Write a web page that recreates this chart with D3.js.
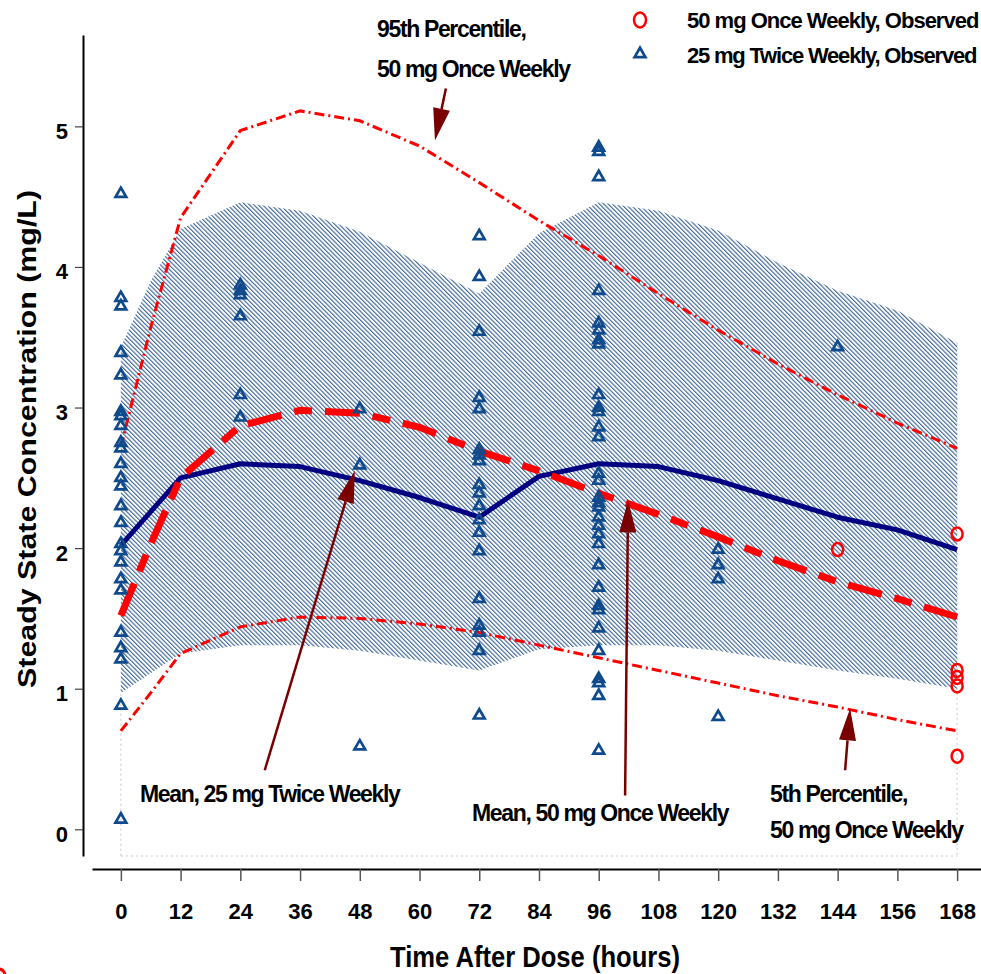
<!DOCTYPE html>
<html>
<head>
<meta charset="utf-8">
<script src="https://cdn.jsdelivr.net/npm/d3@7"></script>
<style>
  body { margin: 0; background: #fff; }
  svg text { font-family: "Liberation Sans", Arial, sans-serif; font-weight: bold; }
</style>
</head>
<body>
<div id="chart"></div>
<script>
// simulated profiles, hours after dose
var hours = [0, 6, 12, 24, 36, 48, 60, 72, 84, 96, 108, 120, 132, 144, 156, 168];
var mean25 = [2.02, 2.26, 2.50, 2.60, 2.58, 2.48, 2.36, 2.22, 2.51, 2.60, 2.58, 2.48, 2.35, 2.22, 2.13, 1.99];
var mean50 = [1.52, 2.03, 2.50, 2.87, 2.98, 2.96, 2.86, 2.69, 2.55, 2.39, 2.24, 2.08, 1.91, 1.76, 1.64, 1.51];
var p95_50 = [2.72, 3.57, 4.35, 4.97, 5.11, 5.04, 4.86, 4.60, 4.33, 4.08, 3.81, 3.55, 3.31, 3.09, 2.89, 2.71];
var p5_50 = [0.70, 0.97, 1.25, 1.44, 1.51, 1.50, 1.46, 1.40, 1.31, 1.22, 1.13, 1.04, 0.95, 0.87, 0.78, 0.70];
var band25Hi = [3.43, 3.90, 4.27, 4.46, 4.40, 4.25, 4.03, 3.81, 4.24, 4.46, 4.40, 4.26, 4.03, 3.83, 3.69, 3.46];
var band25Lo = [0.97, 1.11, 1.25, 1.31, 1.31, 1.27, 1.20, 1.13, 1.28, 1.31, 1.31, 1.27, 1.20, 1.13, 1.07, 1.00];

// observed concentrations
var obs25 = [
  [0, [4.52, 3.78, 3.72, 3.39, 3.23, 2.97, 2.94, 2.87, 2.75, 2.71, 2.60, 2.50, 2.44, 2.30, 2.18, 2.03, 1.98, 1.90, 1.78, 1.70, 1.40, 1.29, 1.21, 0.88, 0.07]],
  [24, [3.87, 3.83, 3.80, 3.65, 3.09, 2.93]],
  [48, [2.99, 2.59, 0.59]],
  [72, [4.22, 3.93, 3.54, 3.07, 2.99, 2.70, 2.66, 2.62, 2.45, 2.39, 2.30, 2.20, 2.11, 1.98, 1.64, 1.45, 1.40, 1.27, 0.81]],
  [96, [4.85, 4.82, 4.64, 3.83, 3.60, 3.55, 3.48, 3.45, 3.09, 3.00, 2.97, 2.86, 2.79, 2.53, 2.48, 2.36, 2.32, 2.29, 2.22, 2.16, 2.10, 2.03, 1.88, 1.72, 1.59, 1.56, 1.43, 1.27, 1.07, 1.04, 0.95, 0.56]],
  [120, [1.99, 1.88, 1.78, 0.80]],
  [144, [3.43]]
];
var obs50 = [
  [144, [1.99]],
  [168, [2.10, 1.13, 1.08, 1.02, 0.52]]
];

var xTicks = d3.range(0, 169, 12);
var yTicks = [0, 1, 2, 3, 4, 5];

var W = 981, H = 974;
var navy = "#000080", obsBlue = "#0f4a8c", red = "#ff0000", maroon = "#7a0000";

var svg = d3.select("#chart").append("svg")
  .attr("width", W)
  .attr("height", H);

var x = d3.scaleLinear().domain([-5.8, 172.8]).range([92, 981]);
var y = d3.scaleLinear().domain([-0.19, 5.65]).range([856, 35]);

// hatch for the 25 mg band
var defs = svg.append("defs");
defs.append("pattern")
  .attr("id", "hatch")
  .attr("patternUnits", "userSpaceOnUse")
  .attr("width", 3.1)
  .attr("height", 6)
  .attr("patternTransform", "rotate(-45)")
  .append("line")
  .attr("x1", 0.6).attr("y1", 0)
  .attr("x2", 0.6).attr("y2", 6)
  .attr("stroke", "#1a4a86")
  .attr("stroke-width", 0.95);

// faint dotted frame
var frame = svg.append("g")
  .attr("stroke", "#c8c8d0")
  .attr("stroke-dasharray", "2,3")
  .attr("stroke-width", 1);
frame.append("line").attr("x1", x(0)).attr("x2", x(0)).attr("y1", y(1)).attr("y2", y(-0.19));
frame.append("line").attr("x1", x(0)).attr("x2", x(168)).attr("y1", y(-0.19)).attr("y2", y(-0.19));
frame.append("line").attr("x1", x(168)).attr("x2", x(168)).attr("y1", y(3.46)).attr("y2", y(-0.19));

var prof = hours.map((h, i) => ({
  h: h, m25: mean25[i], m50: mean50[i], hi: p95_50[i], lo: p5_50[i],
  bHi: band25Hi[i], bLo: band25Lo[i]
}));

// band
svg.append("path")
  .datum(prof)
  .attr("fill", "url(#hatch)")
  .attr("d", d3.area()
    .x(d => x(d.h))
    .y0(d => y(d.bLo))
    .y1(d => y(d.bHi)));

// percentile lines
["hi", "lo"].forEach(k => {
  svg.append("path")
    .datum(prof)
    .attr("fill", "none")
    .attr("stroke", red)
    .attr("stroke-width", 3)
    .attr("stroke-dasharray", "10,4,2,4")
    .attr("d", d3.line().x(d => x(d.h)).y(d => y(d[k])));
});

// mean 25 mg twice weekly
svg.append("path")
  .datum(prof)
  .attr("fill", "none")
  .attr("stroke", navy)
  .attr("stroke-width", 5)
  .attr("stroke-linejoin", "round")
  .attr("d", d3.line().x(d => x(d.h)).y(d => y(d.m25)));

// mean 50 mg once weekly
svg.append("path")
  .datum(prof)
  .attr("fill", "none")
  .attr("stroke", red)
  .attr("stroke-width", 7)
  .attr("stroke-dasharray", "35,13,18,13")
  .attr("d", d3.line().x(d => x(d.h)).y(d => y(d.m50)));

// observed points
var tri = d3.symbol().type(d3.symbolTriangle).size(50);
obs25.forEach(([h, vals]) => {
  svg.append("g").selectAll("path")
    .data(vals)
    .enter().append("path")
    .attr("d", tri)
    .attr("transform", v => `translate(${x(h)},${y(v)})`)
    .attr("fill", "none")
    .attr("stroke", obsBlue)
    .attr("stroke-width", 2.7);
});
obs50.forEach(([h, vals]) => {
  svg.append("g").selectAll("ellipse")
    .data(vals)
    .enter().append("ellipse")
    .attr("cx", x(h))
    .attr("cy", v => y(v))
    .attr("rx", 5.5)
    .attr("ry", 6.5)
    .attr("fill", "none")
    .attr("stroke", red)
    .attr("stroke-width", 2.5);
});

// axes
var yAxis = svg.append("g")
  .attr("transform", "translate(83,0)")
  .call(d3.axisLeft(y).tickValues(yTicks).tickSize(8).tickSizeOuter(0).tickFormat(d3.format("d")));
yAxis.select(".domain").attr("stroke", "#000").attr("stroke-width", 2);
yAxis.selectAll(".tick line").attr("stroke", "#444").attr("stroke-width", 1.2);
yAxis.selectAll(".tick text")
  .attr("x", -15).attr("y", 12).attr("dy", null)
  .style("font-size", "22px").attr("fill", "#000");

var xAxis = svg.append("g")
  .attr("transform", "translate(0,869)")
  .call(d3.axisBottom(x).tickValues(xTicks).tickSize(12).tickSizeOuter(0));
xAxis.select(".domain").attr("stroke", "#000").attr("stroke-width", 2);
xAxis.selectAll(".tick line").attr("stroke", "#555").attr("stroke-width", 1.5);
xAxis.selectAll(".tick text")
  .attr("y", 50).attr("dy", null)
  .style("font-size", "22px").attr("fill", "#000");

// axis titles
svg.append("text")
  .attr("x", 535).attr("y", 967)
  .attr("text-anchor", "middle")
  .attr("textLength", 290).attr("lengthAdjust", "spacingAndGlyphs")
  .style("font-size", "30px")
  .text("Time After Dose (hours)");

svg.append("text")
  .attr("transform", "translate(36,439) rotate(-90)")
  .attr("text-anchor", "middle")
  .attr("textLength", 498).attr("lengthAdjust", "spacingAndGlyphs")
  .style("font-size", "25px")
  .text("Steady State Concentration (mg/L)");

// legend
svg.append("ellipse")
  .attr("cx", 640).attr("cy", 20).attr("rx", 6).attr("ry", 7.5)
  .attr("fill", "none").attr("stroke", red).attr("stroke-width", 2.5);
svg.append("path")
  .attr("d", tri)
  .attr("transform", "translate(640,54)")
  .attr("fill", "none").attr("stroke", obsBlue).attr("stroke-width", 2.7);
svg.append("text").attr("x", 687).attr("y", 28)
  .style("font-size", "22px").style("letter-spacing", "-1px")
  .text("50 mg Once Weekly, Observed");
svg.append("text").attr("x", 687).attr("y", 63)
  .style("font-size", "22px").style("letter-spacing", "-1.2px")
  .text("25 mg Twice Weekly, Observed");

// annotations: [tail hour, tail conc, tip hour, tip conc]
var arrows = [
  [65.3, 5.27, 63.1, 4.90],
  [28.9, 0.42, 47.0, 2.55],
  [101.3, 0.24, 101.9, 2.34],
  [145.5, 0.42, 146.5, 0.86]
];
arrows.forEach(a => {
  var x0 = x(a[0]), y0 = y(a[1]), x1 = x(a[2]), y1 = y(a[3]);
  var ang = Math.atan2(y1 - y0, x1 - x0);
  var len = 32, hw = 8.5;
  var bx = x1 - len * Math.cos(ang), by = y1 - len * Math.sin(ang);
  svg.append("line")
    .attr("x1", x0).attr("y1", y0).attr("x2", bx).attr("y2", by)
    .attr("stroke", maroon).attr("stroke-width", 2.5);
  svg.append("path")
    .attr("d", `M${x1},${y1}L${bx + hw * Math.sin(ang)},${by - hw * Math.cos(ang)}L${bx - hw * Math.sin(ang)},${by + hw * Math.cos(ang)}Z`)
    .attr("fill", maroon);
});

var labels = [
  [377, 37, "95th Percentile,"],
  [377, 77, "50 mg Once Weekly"],
  [140, 802, "Mean, 25 mg Twice Weekly"],
  [472, 821, "Mean, 50 mg Once Weekly"],
  [770, 802, "5th Percentile,"],
  [770, 838, "50 mg Once Weekly"]
];
labels.forEach(l => {
  svg.append("text")
    .attr("x", l[0]).attr("y", l[1])
    .style("font-size", "23px")
    .style("letter-spacing", "-1.35px")
    .text(l[2]);
});

// clipped marker in the lower-left corner
svg.append("ellipse")
  .attr("cx", -1).attr("cy", 976).attr("rx", 6).attr("ry", 7)
  .attr("fill", "none").attr("stroke", red).attr("stroke-width", 3);
</script>
</body>
</html>
